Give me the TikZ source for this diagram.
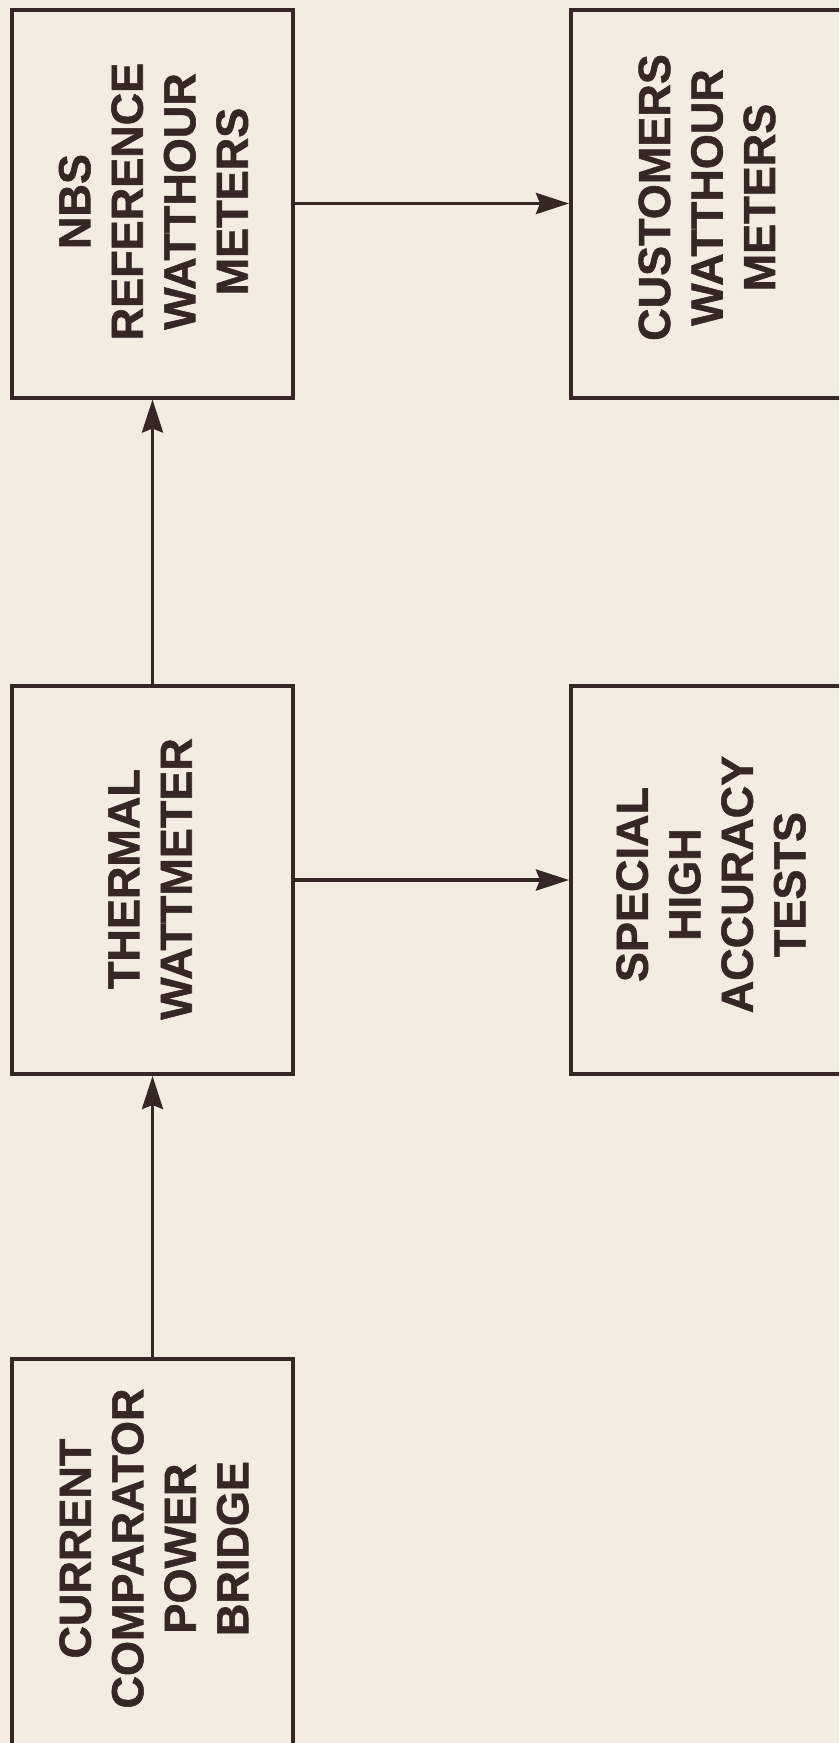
\documentclass[tikz,border=0pt]{standalone}
\usepackage{fontspec}
\setmainfont[BoldFeatures={FakeBold=1.2}]{Liberation Sans}
\usetikzlibrary{arrows.meta}
\definecolor{paper}{HTML}{F4ECE0}
\definecolor{ink}{HTML}{362624}
\tikzset{
  box/.style={draw=ink, line width=4pt, rectangle, minimum width=281pt, minimum height=388pt, inner sep=0pt},
  lbl/.style={rotate=90, align=center, text=ink, font=\fontsize{45}{52.5}\selectfont\bfseries, inner sep=0pt},
  conn/.style={draw=ink, line width=3.8pt, -{Stealth[length=33pt,width=21pt,inset=4pt]}}
}
\begin{document}
\begin{tikzpicture}[x=1pt,y=-1pt]
\useasboundingbox (0,0) rectangle (839,1743);
\fill[paper] (0,0) rectangle (839,1743);
\clip (0,0) rectangle (839,1743);
\node[box] (nbs) at (152.5,203.5) {};
\node[box] (cust) at (711.5,203.5) {};
\node[box] (therm) at (152.5,880) {};
\node[box] (spec) at (711.5,880) {};
\node[box] (cur) at (152.5,1552.5) {};
\node[lbl] (nbst) at (153.5,201.5) {NBS\\REFERENCE\\WATTHOUR\\METERS};
\node[lbl] (custt) at (707,197.5) {CUSTOMERS\\WATTHOUR\\METERS};
\node[lbl] (thermt) at (150,879) {THERMAL\\WATTMETER};
\node[lbl] (spect) at (711,884.5) {SPECIAL\\HIGH\\ACCURACY\\TESTS};
\node[lbl] (curt) at (154,1548.5) {CURRENT\\COMPARATOR\\POWER\\BRIDGE};
\draw[conn] (cur.north) -- (therm.south);
\draw[conn] (therm.north) -- (nbs.south);
\draw[conn] (nbs.east) -- (cust.west);
\draw[conn] (therm.east) -- (spec.west);
\end{tikzpicture}
\end{document}
